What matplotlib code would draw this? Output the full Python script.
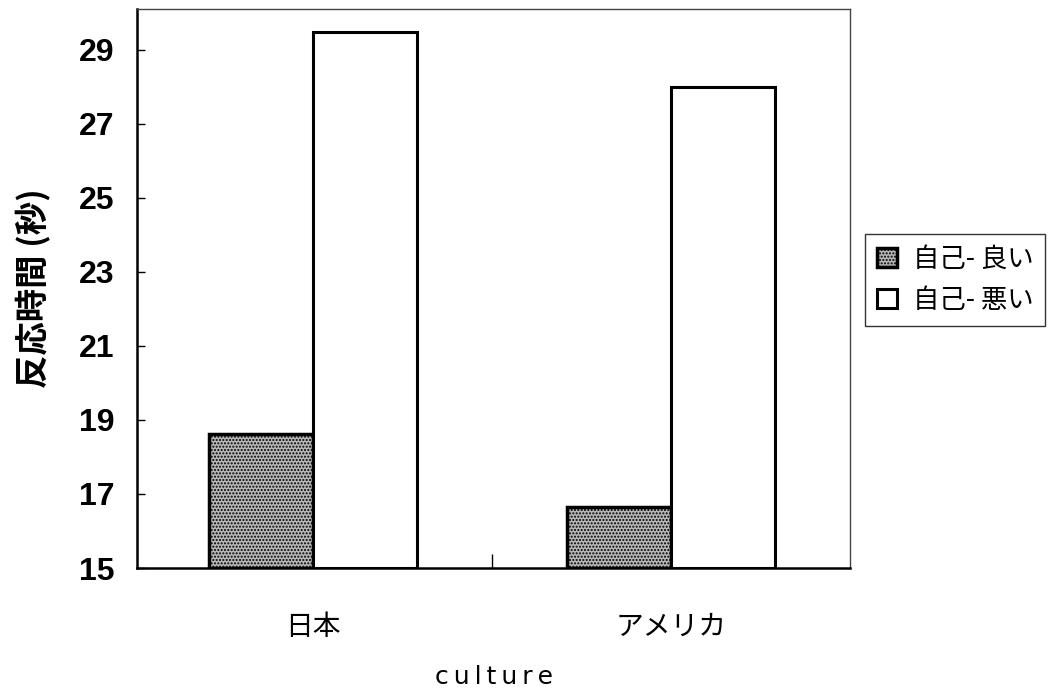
import matplotlib
matplotlib.use("Agg")
import matplotlib.pyplot as plt
import numpy as np

plt.rcParams['font.family'] = ['Noto Sans CJK JP', 'DejaVu Sans']
plt.rcParams['hatch.color'] = '#777777'

categories = ['日本', 'アメリカ']
series_names = ['自己- 良い', '自己- 悪い']
good_vals = [18.63, 16.65]
bad_vals = [29.47, 28.0]
yticks = [15, 17, 19, 21, 23, 25, 27, 29]

fig = plt.figure(figsize=(10.58, 6.91), dpi=100)
ax = fig.add_axes([0.1295, 0.178, 0.674, 0.809])

x = np.arange(len(categories))
w = 0.29
ax.bar(x - w/2, np.array(good_vals) - 15, width=w, bottom=15, color='#b8b8b8',
       edgecolor='black', linewidth=2.5, label=series_names[0], hatch='.....', zorder=3)
ax.bar(x + w/2, np.array(bad_vals) - 15, width=w, bottom=15, color='white',
       edgecolor='black', linewidth=2.2, label=series_names[1], zorder=3)

ax.set_xlim(-0.49, 1.5)
ax.set_ylim(15, 30.1)
ax.set_yticks(yticks)
ax.set_yticklabels([str(t) for t in yticks], fontsize=23, fontweight='bold',
                   family=['Liberation Sans', 'DejaVu Sans'])
ax.tick_params(axis='y', direction='in', length=6, width=1, pad=16)

ax.set_xticks([0.5])
ax.set_xticklabels([''])
ax.tick_params(axis='x', direction='in', length=10, width=1)
for xi, c in zip(x, categories):
    ax.text(xi, -0.105, c, transform=ax.get_xaxis_transform(), ha='center', va='center',
            fontsize=20)

ax.text(0.5, -0.195, 'c u l t u r e'.replace(' ', '\u2009'), transform=ax.transAxes,
        ha='center', va='center', fontsize=18, family=['DejaVu Sans'])
ax.set_ylabel('反応時間 (秒)', fontsize=24, fontweight='bold', labelpad=20)

for s in ['top', 'right']:
    ax.spines[s].set_linewidth(1.0)
    ax.spines[s].set_color('#444444')
for s in ['left', 'bottom']:
    ax.spines[s].set_linewidth(1.8)

leg = fig.legend(loc='upper left', bbox_to_anchor=(0.8176, 0.662), fontsize=19,
                 frameon=True, fancybox=False, edgecolor='black', handlelength=0.75,
                 handleheight=0.75, handletextpad=0.6, borderpad=0.45, labelspacing=0.55,
                 borderaxespad=0)
leg.get_frame().set_linewidth(1.0)

fig.savefig('out.png', dpi=100)
